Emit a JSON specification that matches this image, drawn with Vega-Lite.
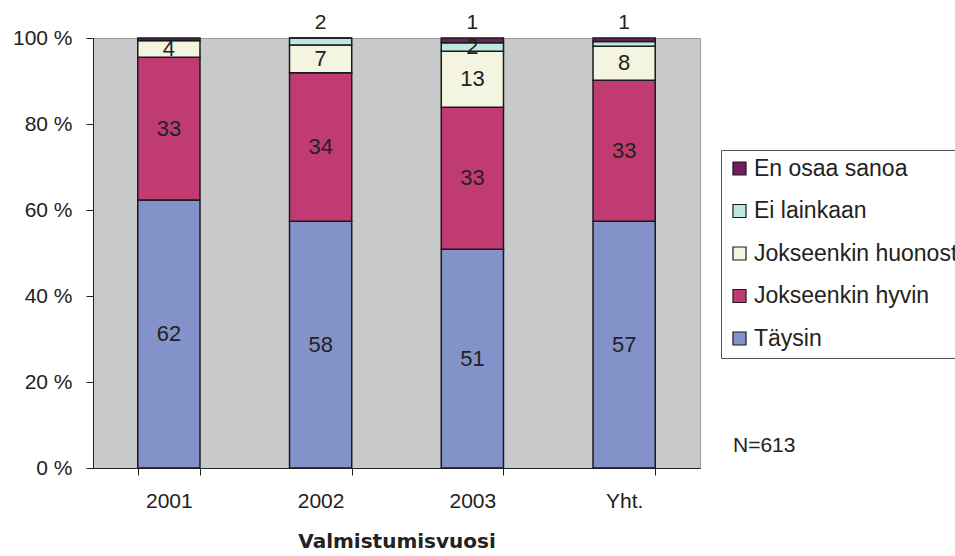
{
  "$schema": "https://vega.github.io/schema/vega-lite/v6.json",
  "width": 607,
  "height": 430,
  "autosize": {"type": "none"},
  "padding": {"left": 93, "top": 38, "right": 255, "bottom": 88},
  "background": "white",
  "title": {"text": "N=613", "orient": "bottom", "anchor": "end", "frame": "group", "align": "left", "dx": 33, "dy": -120, "fontSize": 21, "fontWeight": "normal", "font": "Liberation Sans", "color": "#222"},
  "config": {
    "font": "Liberation Sans",
    "view": {"fill": "#C8C9CB", "stroke": "#999", "strokeWidth": 1}
  },
  "data": {"values": [
    {"vuosi": "2001", "vastaus": "Täysin", "k": 1, "p": 62.3, "label": "62"},
    {"vuosi": "2001", "vastaus": "Jokseenkin hyvin", "k": 2, "p": 33.2, "label": "33"},
    {"vuosi": "2001", "vastaus": "Jokseenkin huonosti", "k": 3, "p": 3.9, "label": "4"},
    {"vuosi": "2001", "vastaus": "Ei lainkaan", "k": 4, "p": 0, "label": null},
    {"vuosi": "2001", "vastaus": "En osaa sanoa", "k": 5, "p": 0.6, "label": null},
    {"vuosi": "2002", "vastaus": "Täysin", "k": 1, "p": 57.4, "label": "58"},
    {"vuosi": "2002", "vastaus": "Jokseenkin hyvin", "k": 2, "p": 34.5, "label": "34"},
    {"vuosi": "2002", "vastaus": "Jokseenkin huonosti", "k": 3, "p": 6.5, "label": "7"},
    {"vuosi": "2002", "vastaus": "Ei lainkaan", "k": 4, "p": 1.6, "label": "2"},
    {"vuosi": "2002", "vastaus": "En osaa sanoa", "k": 5, "p": 0, "label": null},
    {"vuosi": "2003", "vastaus": "Täysin", "k": 1, "p": 50.9, "label": "51"},
    {"vuosi": "2003", "vastaus": "Jokseenkin hyvin", "k": 2, "p": 33.0, "label": "33"},
    {"vuosi": "2003", "vastaus": "Jokseenkin huonosti", "k": 3, "p": 13.0, "label": "13"},
    {"vuosi": "2003", "vastaus": "Ei lainkaan", "k": 4, "p": 2.0, "label": "2"},
    {"vuosi": "2003", "vastaus": "En osaa sanoa", "k": 5, "p": 1.1, "label": "1"},
    {"vuosi": "Yht.", "vastaus": "Täysin", "k": 1, "p": 57.4, "label": "57"},
    {"vuosi": "Yht.", "vastaus": "Jokseenkin hyvin", "k": 2, "p": 32.8, "label": "33"},
    {"vuosi": "Yht.", "vastaus": "Jokseenkin huonosti", "k": 3, "p": 7.9, "label": "8"},
    {"vuosi": "Yht.", "vastaus": "Ei lainkaan", "k": 4, "p": 1.1, "label": "1"},
    {"vuosi": "Yht.", "vastaus": "En osaa sanoa", "k": 5, "p": 0.8, "label": null}
  ]},
  "transform": [
    {"stack": "p", "groupby": ["vuosi"], "sort": [{"field": "k", "order": "ascending"}], "as": ["p0", "p1"]},
    {"calculate": "(datum.p0 + datum.p1) / 2", "as": "pm"}
  ],
  "encoding": {
    "x": {
      "field": "vuosi", "type": "nominal", "sort": ["2001", "2002", "2003", "Yht."],
      "scale": {"paddingInner": 0.59, "paddingOuter": 0.295},
      "axis": {
        "title": "Valmistumisvuosi", "titleFontSize": 20, "titleFont": "DejaVu Sans", "titleFontWeight": "bold", "titleColor": "#222", "titlePadding": 20,
        "labelAngle": 0, "labelFontSize": 21, "labelColor": "#222", "labelPadding": 15,
        "tickBand": "extent", "tickSize": 7, "tickColor": "#222", "domainColor": "#222", "domainWidth": 1
      }
    }
  },
  "layer": [
    {
      "mark": {"type": "bar", "stroke": "#1a1a1a", "strokeWidth": 1.5},
      "encoding": {
        "y": {"field": "p0", "type": "quantitative", "scale": {"domain": [0, 100], "nice": false},
          "axis": {"title": null, "values": [0, 20, 40, 60, 80, 100], "labelExpr": "datum.value + ' %'", "labelFontSize": 21, "labelColor": "#222", "labelPadding": 14, "tickSize": 7, "tickColor": "#222", "domainColor": "#222", "grid": false}},
        "y2": {"field": "p1"},
        "color": {
          "field": "vastaus", "type": "nominal",
          "scale": {
            "domain": ["En osaa sanoa", "Ei lainkaan", "Jokseenkin huonosti", "Jokseenkin hyvin", "Täysin"],
            "range": ["#731C5E", "#C0E6E2", "#F4F5E1", "#C13B73", "#8392C9"]
          },
          "legend": {
            "title": null, "orient": "none", "legendX": 628, "legendY": 112,
            "symbolType": "square", "symbolSize": 170, "symbolStrokeColor": "#1a1a1a", "symbolStrokeWidth": 1.2,
            "labelFontSize": 23, "labelColor": "#222", "labelLimit": 400, "labelOffset": 3,
            "rowPadding": 18.5, "padding": 7, "strokeColor": "#555", "fillColor": "white"
          }
        }
      }
    },
    {
      "transform": [{"filter": "datum.label != null && datum.p >= 1.8"}],
      "mark": {"type": "text", "fontSize": 22, "color": "#222", "baseline": "middle"},
      "encoding": {
        "y": {"field": "pm", "type": "quantitative"},
        "text": {"field": "label"}
      }
    },
    {
      "transform": [{"filter": "datum.label != null && datum.p < 1.8"}],
      "mark": {"type": "text", "fontSize": 21, "color": "#222", "baseline": "middle", "dy": -15},
      "encoding": {
        "y": {"datum": 100},
        "text": {"field": "label"}
      }
    }
  ]
}
